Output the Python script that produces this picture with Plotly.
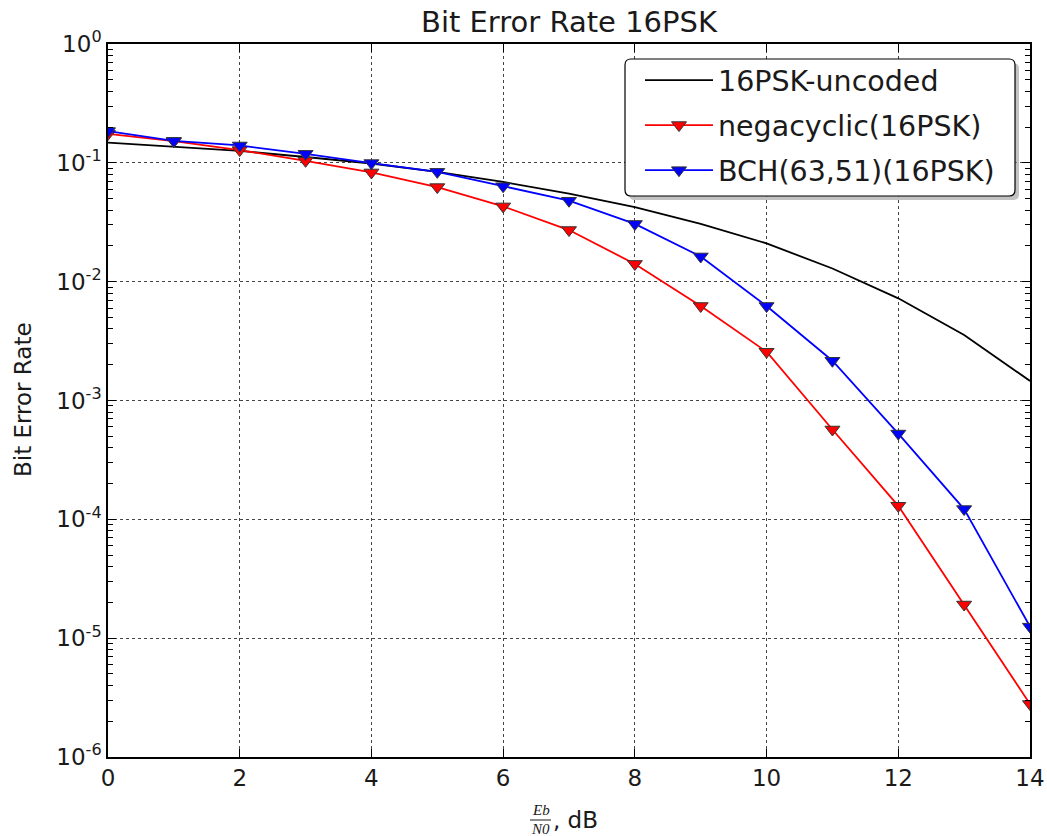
import plotly.graph_objects as go

# ---------------- data ----------------
ebn0_db = [0, 1, 2, 3, 4, 5, 6, 7, 8, 9, 10, 11, 12, 13, 14]

ber_uncoded = [0.148, 0.137, 0.126, 0.112, 0.0987, 0.084, 0.069, 0.055, 0.0423,
               0.0306, 0.0210, 0.0129, 0.00724, 0.00356, 0.00146]

ber_negacyclic = [0.175, 0.152, 0.128, 0.104, 0.083, 0.0625, 0.0430, 0.0272, 0.0141,
                  0.00624, 0.00257, 5.7e-4, 1.30e-4, 1.92e-5, 2.79e-6]

ber_bch = [0.185, 0.153, 0.140, 0.119, 0.0995, 0.084, 0.0636, 0.048, 0.0306,
           0.0163, 0.00624, 2.16e-3, 5.27e-4, 1.22e-4, 1.25e-5]

series_names = ["16PSK-uncoded", "negacyclic(16PSK)", "BCH(63,51)(16PSK)"]

x_ticks = [0, 2, 4, 6, 8, 10, 12, 14]
y_tick_vals = [1e-6, 1e-5, 1e-4, 1e-3, 1e-2, 1e-1, 1]
y_tick_text = ["10<sup>-6</sup>", "10<sup>-5</sup>", "10<sup>-4</sup>", "10<sup>-3</sup>",
               "10<sup>-2</sup>", "10<sup>-1</sup>", "10<sup>0</sup>"]
y_minor_vals = [m * 10.0 ** e for e in range(-6, 0) for m in range(2, 10)]

# ---------------- layout geometry (pixels) ----------------
W, H = 1047, 836
L, R, T, B = 108, 1030, 44, 757
FONT = "DejaVu Sans"
TXT = "#1a1a1a"


def px(xp):
    return (xp - L) / (R - L)


def py(yp):
    return (B - yp) / (B - T)


def rounded_rect(x0, y0, x1, y1, r):
    rx, ry = r / (R - L), r / (B - T)
    X0, X1 = px(x0), px(x1)
    Y0, Y1 = py(y0), py(y1)  # Y0 top, Y1 bottom
    return (f"M {X0 + rx},{Y0} L {X1 - rx},{Y0} Q {X1},{Y0} {X1},{Y0 - ry} "
            f"L {X1},{Y1 + ry} Q {X1},{Y1} {X1 - rx},{Y1} "
            f"L {X0 + rx},{Y1} Q {X0},{Y1} {X0},{Y1 + ry} "
            f"L {X0},{Y0 - ry} Q {X0},{Y0} {X0 + rx},{Y0} Z")


fig = go.Figure()

fig.add_trace(go.Scatter(
    x=ebn0_db, y=ber_uncoded, mode="lines", name=series_names[0],
    legendgroup="a",
    line=dict(color="black", width=1.8),
))
fig.add_trace(go.Scatter(
    x=ebn0_db, y=ber_negacyclic, mode="lines+markers", name=series_names[1],
    legendgroup="b",
    line=dict(color="#ff0000", width=1.8),
    marker=dict(symbol="triangle-down", size=13, color="#ff0000",
                line=dict(color="#333333", width=1)),
))
fig.add_trace(go.Scatter(
    x=ebn0_db, y=ber_bch, mode="lines+markers", name=series_names[2],
    legendgroup="c",
    line=dict(color="#0000ff", width=1.8),
    marker=dict(symbol="triangle-down", size=13, color="#0000ff",
                line=dict(color="#333333", width=1)),
))

shapes = [
    # legend shadow
    dict(type="path", xref="paper", yref="paper", layer="above",
         path=rounded_rect(629, 63, 1019, 200, 6),
         fillcolor="#9a9a9a", line=dict(width=0), opacity=0.6),
    # legend box
    dict(type="path", xref="paper", yref="paper", layer="above",
         path=rounded_rect(625, 59, 1015, 196, 6),
         fillcolor="white", line=dict(color="black", width=1.2)),
    # fraction bar of x-axis label
    dict(type="line", xref="paper", yref="paper", layer="above",
         x0=px(530), x1=px(551), y0=py(820), y1=py(820),
         line=dict(color=TXT, width=1)),
]

annotations = [
    dict(text="<i>Eb</i>", xref="paper", yref="paper", x=px(540.5), y=py(810),
         showarrow=False, xanchor="center", yanchor="middle",
         font=dict(family="Liberation Serif", size=15, color=TXT)),
    dict(text="<i>N0</i>", xref="paper", yref="paper", x=px(540.5), y=py(829),
         showarrow=False, xanchor="center", yanchor="middle",
         font=dict(family="Liberation Serif", size=15, color=TXT)),
    dict(text=", dB", xref="paper", yref="paper", x=px(551), y=py(820),
         showarrow=False, xanchor="left", yanchor="middle",
         font=dict(family=FONT, size=23, color=TXT)),
    dict(text="Bit Error Rate", xref="paper", yref="paper", x=px(23), y=py(400),
         showarrow=False, xanchor="center", yanchor="middle", textangle=-90,
         font=dict(family=FONT, size=23, color=TXT)),
]

fig.update_layout(
    width=W, height=H,
    margin=dict(l=L, r=W - R, t=T, b=H - B, pad=0, autoexpand=False),
    paper_bgcolor="white", plot_bgcolor="white",
    font=dict(family=FONT, color=TXT),
    title=dict(text="Bit Error Rate 16PSK", x=(L + R) / 2 / W, xanchor="center",
               y=1 - 22 / H, yanchor="middle", yref="container",
               font=dict(family=FONT, size=29, color=TXT)),
    showlegend=True,
    legend=dict(x=px(640), y=py(55), xanchor="left", yanchor="top",
                bgcolor="rgba(0,0,0,0)", borderwidth=0,
                font=dict(family=FONT, size=28.5, color=TXT),
                tracegroupgap=5, itemwidth=68),
    shapes=shapes,
    annotations=annotations,
)

fig.update_xaxes(
    range=[0, 14], tickvals=x_ticks, ticktext=[str(v) for v in x_ticks],
    automargin=False,
    showline=True, linecolor="black", linewidth=1.5, mirror="allticks",
    ticks="inside", ticklen=8, tickcolor="black", tickwidth=1,
    showgrid=True, gridcolor="#444444", griddash="dot", gridwidth=1,
    zeroline=False,
    tickfont=dict(family=FONT, size=23, color=TXT),
)

fig.update_yaxes(
    type="log", range=[-6, 0],
    automargin=False,
    tickmode="array", tickvals=y_tick_vals, ticktext=y_tick_text,
    showline=True, linecolor="black", linewidth=1.5, mirror="allticks",
    ticks="inside", ticklen=8, tickcolor="black", tickwidth=1,
    showgrid=True, gridcolor="#444444", griddash="dot", gridwidth=1,
    zeroline=False,
    minor=dict(tickmode="array", tickvals=y_minor_vals, ticks="inside",
               ticklen=5, tickcolor="black", tickwidth=1, showgrid=False),
    tickfont=dict(family=FONT, size=23, color=TXT),
)

fig.write_html("out.html")
